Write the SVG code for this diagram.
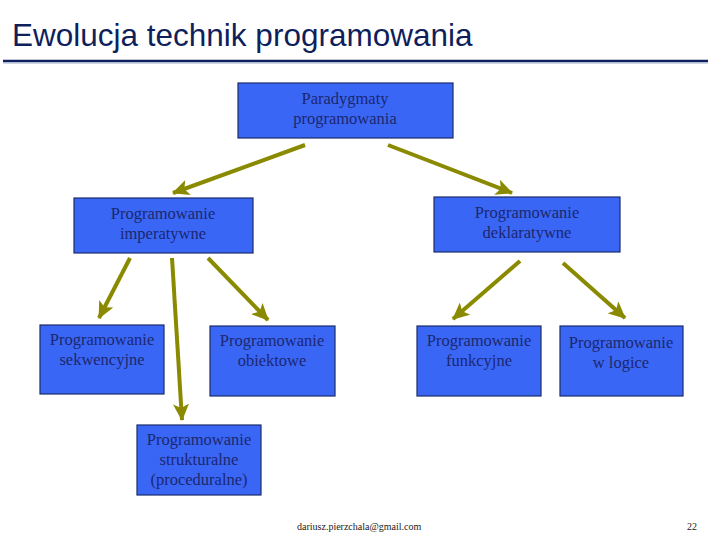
<svg xmlns="http://www.w3.org/2000/svg" width="720" height="540" viewBox="0 0 720 540">
<style>
.box{fill:#3a66f5;stroke:#1c2c6c;stroke-width:1.2}
.t{font-family:'Liberation Serif','Times New Roman','DejaVu Serif',serif;font-size:16.5px;fill:#1a2870;text-anchor:middle}
.f{font-family:'Liberation Serif','Times New Roman','DejaVu Serif',serif;font-size:10px;fill:#222}
.c{stroke:#8a8a00;stroke-width:4;fill:none;marker-end:url(#ah)}
</style>
<defs>
<marker id="ah" markerUnits="userSpaceOnUse" markerWidth="18" markerHeight="16" refX="16" refY="8" orient="auto">
<path d="M0,0 L17,8 L0,16 L4,8 Z" fill="#8a8a00"/>
</marker>
</defs>
<rect width="720" height="540" fill="#fff"/>
<text x="12" y="46" font-family="'Liberation Sans',Arial,sans-serif" font-size="31.5" fill="#0f1f5c">Ewolucja technik programowania</text>
<line x1="3" y1="61" x2="708" y2="61" stroke="#0f1f5c" stroke-width="2.5"/>
<line x1="3" y1="63" x2="708" y2="63" stroke="#9fb0d0" stroke-width="1"/>
<g id="connectors">
<line class="c" x1="305" y1="145" x2="173" y2="193"/>
<line class="c" x1="388" y1="145" x2="512" y2="193"/>
<line class="c" x1="130" y1="258" x2="99" y2="318"/>
<line class="c" x1="172" y1="258" x2="182" y2="420"/>
<line class="c" x1="208" y1="258" x2="268" y2="320"/>
<line class="c" x1="520" y1="261" x2="453" y2="319"/>
<line class="c" x1="563" y1="263" x2="625" y2="318"/>
</g>
<g id="n-paradygmaty"><rect class="box" x="238" y="83" width="215" height="55"/><text class="t" x="345" y="104">Paradygmaty</text><text class="t" x="345" y="124">programowania</text></g>
<g id="n-imperatywne"><rect class="box" x="74" y="198" width="179" height="55"/><text class="t" x="163" y="219">Programowanie</text><text class="t" x="163" y="239">imperatywne</text></g>
<g id="n-deklaratywne"><rect class="box" x="434" y="197" width="186" height="55"/><text class="t" x="527" y="218">Programowanie</text><text class="t" x="527" y="238">deklaratywne</text></g>
<g id="n-sekwencyjne"><rect class="box" x="40" y="325" width="124" height="69"/><text class="t" x="102" y="345">Programowanie</text><text class="t" x="102" y="365">sekwencyjne</text></g>
<g id="n-obiektowe"><rect class="box" x="210" y="326" width="125" height="70"/><text class="t" x="272" y="346">Programowanie</text><text class="t" x="272" y="366">obiektowe</text></g>
<g id="n-strukturalne"><rect class="box" x="137" y="425" width="124" height="70"/><text class="t" x="199" y="445">Programowanie</text><text class="t" x="199" y="465">strukturalne</text><text class="t" x="199" y="485">(proceduralne)</text></g>
<g id="n-funkcyjne"><rect class="box" x="417" y="326" width="124" height="70"/><text class="t" x="479" y="346">Programowanie</text><text class="t" x="479" y="366">funkcyjne</text></g>
<g id="n-logice"><rect class="box" x="560" y="326" width="123" height="70"/><text class="t" x="621" y="348">Programowanie</text><text class="t" x="621" y="368">w logice</text></g>
<text class="f" x="297" y="530">dariusz.pierzchala@gmail.com</text>
<text class="f" x="687" y="530">22</text>
</svg>
